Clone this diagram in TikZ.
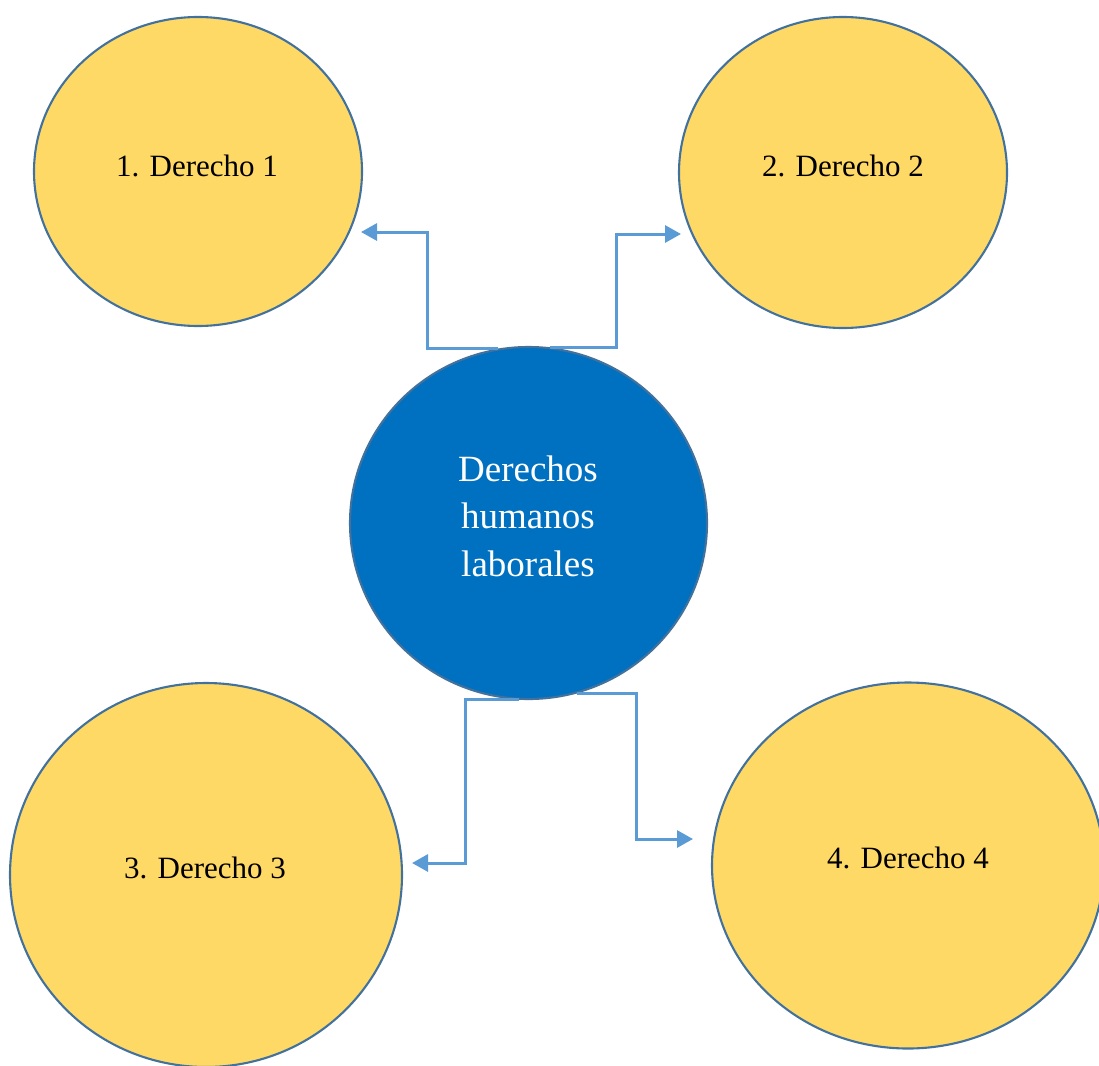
\documentclass[tikz,border=0pt]{standalone}
\usepackage{fontspec}
\setmainfont{Liberation Serif}
\usetikzlibrary{shapes.geometric,arrows.meta,calc}
\definecolor{yel}{HTML}{FFD966}
\definecolor{rim}{HTML}{41719C}
\definecolor{mid}{HTML}{0070C0}
\definecolor{lnk}{HTML}{5B9BD5}
\tikzset{
  bubble/.style={ellipse,draw=rim,line width=2.1pt,fill=yel,inner sep=0pt},
  hub/.style={ellipse,draw=rim,line width=2.1pt,fill=mid,inner sep=0pt},
  lab/.style={font=\fontsize{31}{38}\selectfont,text=black},
  conn/.style={draw=lnk,line width=3pt,-{Triangle[length=16pt,width=17pt]}}
}
\begin{document}
\begin{tikzpicture}[x=1pt,y=-1pt]
\clip (0,0) rectangle (1099,1065);
\useasboundingbox (0,0) rectangle (1099,1065);
\node[bubble,minimum width=328pt,minimum height=309pt] (e1) at (198,171.5) {};
\node[bubble,minimum width=328pt,minimum height=311pt] (e2) at (843,172.5) {};
\node[bubble,minimum width=392pt,minimum height=384pt] (e3) at (206,875) {};
\node[bubble,minimum width=392pt,minimum height=366pt] (e4) at (908,865.5) {};
\node[hub,minimum width=357pt,minimum height=352pt] (c) at (528.5,523) {};
\node[lab] (l1) at (197,166) {1. Derecho 1};
\node[lab] (l2) at (843,166) {2. Derecho 2};
\node[lab] (l3) at (205,868) {3. Derecho 3};
\node[lab] (l4) at (908,858) {4. Derecho 4};
\node[align=center,text=white,font=\fontsize{37}{47.5}\selectfont] (lc) at (528,516) {Derechos\\humanos\\laborales};
\coordinate (t1) at (361,232);
\coordinate (t2) at (681,234);
\coordinate (t3) at (412,863);
\coordinate (t4) at (693,839);
\draw[conn] (c.100) -| ($(t1)+(66,0)$) -- (t1);
\draw[conn] (c.83) -| ($(t2)+(-65,0)$) -- (t2);
\draw[conn] (c.267) -| ($(t3)+(53,0)$) -- (t3);
\draw[conn] (c.286) -| ($(t4)+(-57,0)$) -- (t4);
\end{tikzpicture}
\end{document}
